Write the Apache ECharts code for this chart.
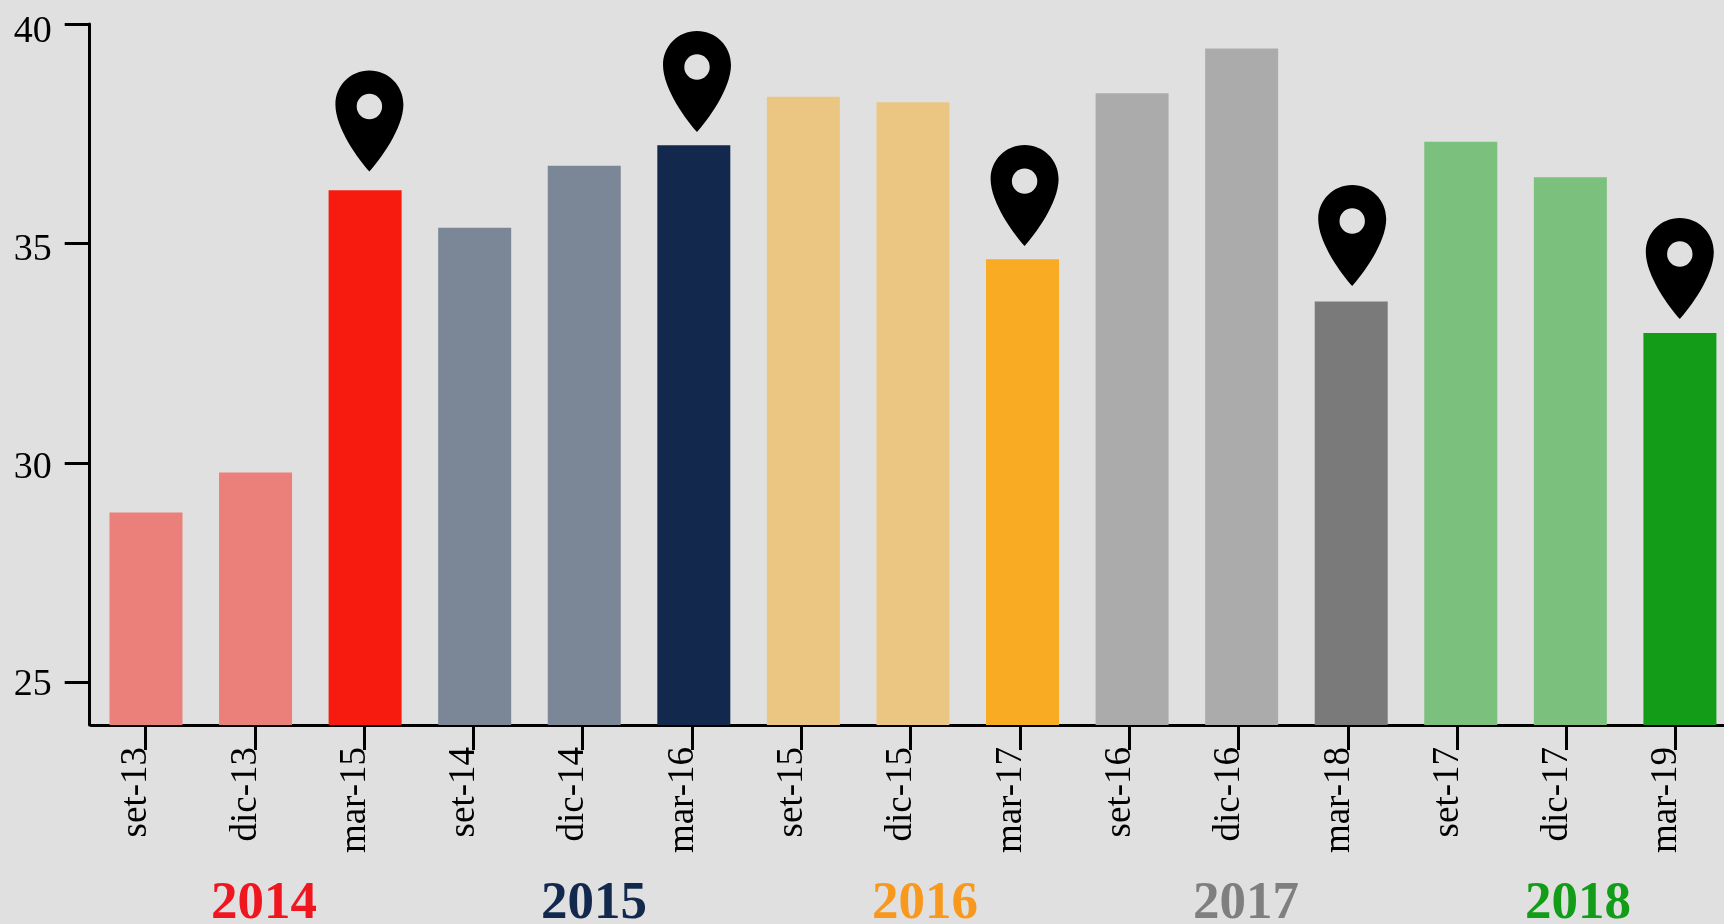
<!DOCTYPE html>
<html>
<head>
<meta charset="utf-8">
<title>chart</title>
<style>
html,body{margin:0;padding:0;background:#e0e0e0;overflow:hidden;}
#chart1{width:1760px;height:924px;}
</style>
<script src="https://cdn.jsdelivr.net/npm/echarts@6/dist/echarts.min.js"></script>
</head>
<body>
<div id="chart1"></div>
<script>
var categories = ['set-13','dic-13','mar-15','set-14','dic-14','mar-16','set-15','dic-15','mar-17','set-16','dic-16','mar-18','set-17','dic-17','mar-19'];
var values = [28.87,29.78,36.21,35.36,36.77,37.24,38.34,38.22,34.64,38.42,39.44,33.68,37.32,36.51,32.96];
var barColors = ['#eb7f7a','#eb7f7a','#f71b0f','#7b8696','#7b8696','#12294d','#ebc682','#ebc682','#f9ab23','#ababab','#ababab','#7a7a7a','#7bc07d','#7bc07d','#129c17'];
// punta del pin, solo sui trimestri evidenziati
var pinTips = ['-','-',36.64,'-','-',37.54,'-','-',34.94,'-','-',34.03,'-','-',33.28];
var yTicks = [25,30,35,40];
var years = ['2014','2015','2016','2017','2018'];
var yearColors = ['#f0161f','#12294d','#f8981d','#7f7f7f','#129c17'];
var yearX = [264,594,925,1246,1578];

var pinPath = 'path://M34 0C15 0 0 15 0 34C0 58 24 90 34 101C44 90 68 58 68 34C68 15 53 0 34 0Z' +
  'M34 23.3A12.7 12.7 0 1 1 34 48.7A12.7 12.7 0 1 1 34 23.3Z';

var fontName = '"Liberation Serif", serif';

var option = {
  backgroundColor: '#e0e0e0',
  animation: false,
  grid: [
    {left: 91.2, top: 24, width: 1643.5, height: 701},
    // griglia per tacche ed etichette: nell'originale non sono allineate alle barre
    {left: 90.85, top: 32.3, width: 1639.5, height: 692.7},
    // griglia per i pin, anche loro con un passo proprio
    {left: 96.4, top: 24, width: 1638, height: 701}
  ],
  xAxis: [
    {
      type: 'category',
      gridIndex: 0,
      data: categories,
      axisLine: {lineStyle: {color: '#000', width: 3}},
      axisTick: {show: false},
      axisLabel: {show: false}
    },
    {
      type: 'category',
      gridIndex: 1,
      data: categories,
      axisLine: {show: false},
      axisTick: {show: true, alignWithLabel: true, length: 25, lineStyle: {color: '#000', width: 3}},
      axisLabel: {
        show: true,
        interval: 0,
        rotate: 90,
        margin: 22,
        color: '#000',
        fontFamily: fontName,
        fontSize: 37,
        lineHeight: 18,
        verticalAlign: 'bottom',
        align: 'right'
      }
    },
    {type: 'category', gridIndex: 2, data: categories, show: false}
  ],
  yAxis: [
    {
      type: 'value',
      gridIndex: 0,
      min: 24.03,
      max: 40,
      offset: 1.5,
      splitLine: {show: false},
      axisLine: {show: true, lineStyle: {color: '#000', width: 3}},
      axisTick: {show: true, length: 25, customValues: yTicks, lineStyle: {color: '#000', width: 3}},
      axisLabel: {show: false}
    },
    {
      type: 'value',
      gridIndex: 1,
      min: 24.09,
      max: 40,
      offset: 1,
      splitLine: {show: false},
      axisLine: {show: false},
      axisTick: {show: false},
      axisLabel: {
        customValues: yTicks,
        margin: 38,
        color: '#000',
        fontFamily: fontName,
        fontSize: 38,
        formatter: function (v) { return String(v); }
      }
    },
    {type: 'value', gridIndex: 2, min: 24.03, max: 40, show: false}
  ],
  series: [
    {
      type: 'bar',
      xAxisIndex: 0,
      yAxisIndex: 0,
      barWidth: 73,
      data: values.map(function (v, i) {
        return {value: v, itemStyle: {color: barColors[i]}};
      })
    },
    {
      type: 'scatter',
      xAxisIndex: 2,
      yAxisIndex: 2,
      symbol: pinPath,
      symbolSize: [68, 101],
      symbolOffset: [0, -50.5],
      itemStyle: {color: '#000', opacity: 1},
      data: pinTips
    }
  ],
  graphic: years.map(function (y, i) {
    return {
      type: 'text',
      x: yearX[i],
      y: 931,
      style: {
        text: y,
        fill: yearColors[i],
        font: 'bold 53px ' + fontName,
        textAlign: 'center',
        textVerticalAlign: 'bottom'
      }
    };
  })
};

var myChart = echarts.init(document.getElementById('chart1'));
myChart.setOption(option);
</script>
</body>
</html>
